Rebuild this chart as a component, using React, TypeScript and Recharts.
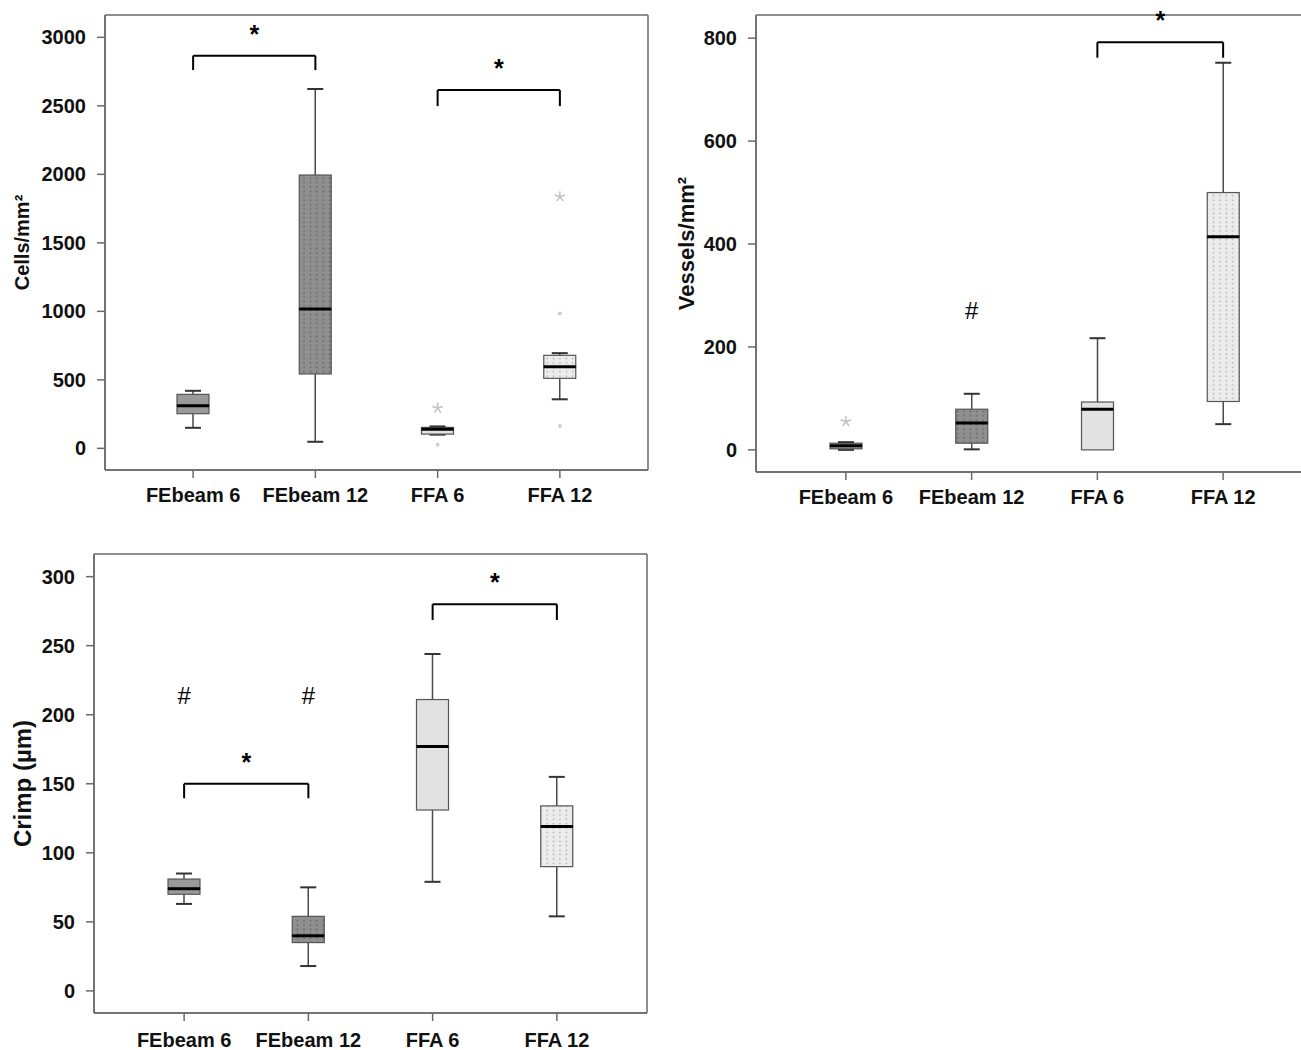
import React from 'react';
import { ComposedChart, Bar, Line, XAxis, YAxis, ReferenceLine, CartesianGrid } from 'recharts';

const categories = ['FEbeam 6', 'FEbeam 12', 'FFA 6', 'FFA 12'];

// Panel 1: Cells/mm²
const cellsMin = [150, 48, 100, 358];
const cellsQ1 = [253, 543, 104, 511];
const cellsMedian = [311, 1017, 139, 596];
const cellsQ3 = [394, 1995, 153, 679];
const cellsMax = [420, 2623, 160, 695];
const cellsStarOutliers = [null, null, 294, 1837];
const cellsDotOutliers = [null, null, 27, 985];
const cellsDotOutliers2 = [null, null, null, 163];
const cellsHash = [null, null, null, null];
const cellsTicks = [0, 500, 1000, 1500, 2000, 2500, 3000];
const cellsBrackets = [
  ['FEbeam 6', 'FEbeam 12', 2866, 2761],
  ['FFA 6', 'FFA 12', 2615, 2498],
];

// Panel 2: Vessels/mm²
const vesselsMin = [0, 1, 0, 50];
const vesselsQ1 = [2, 13, 0, 94];
const vesselsMedian = [8, 52, 79, 414];
const vesselsQ3 = [13, 79, 93, 500];
const vesselsMax = [15, 109, 217, 752];
const vesselsStarOutliers = [55, null, null, null];
const vesselsDotOutliers = [null, null, null, null];
const vesselsDotOutliers2 = [null, null, null, null];
const vesselsHash = [null, 272, null, null];
const vesselsTicks = [0, 200, 400, 600, 800];
const vesselsBrackets = [['FFA 6', 'FFA 12', 792, 762]];

// Panel 3: Crimp (µm)
const crimpMin = [63, 18, 79, 54];
const crimpQ1 = [70, 35, 131, 90];
const crimpMedian = [74, 40, 177, 119];
const crimpQ3 = [81, 54, 211, 134];
const crimpMax = [85, 75, 244, 155];
const crimpStarOutliers = [null, null, null, null];
const crimpDotOutliers = [null, null, null, null];
const crimpDotOutliers2 = [null, null, null, null];
const crimpHash = [214, 214, null, null];
const crimpTicks = [0, 50, 100, 150, 200, 250, 300];
const crimpBrackets = [
  ['FEbeam 6', 'FEbeam 12', 150, 139.5],
  ['FFA 6', 'FFA 12', 280, 268.6],
];

const FONT = 'Liberation Sans, Arial, Helvetica, sans-serif';
const AXIS = '#6a6a6a';

function buildRows(mins, q1s, meds, q3s, maxs, stars, dots, dots2, hashes) {
  return categories.map((name, i) => ({
    name,
    base: mins[i],
    lw: q1s[i] - mins[i],
    lb: meds[i] - q1s[i],
    ub: q3s[i] - meds[i],
    uw: maxs[i] - q3s[i],
    star: stars[i],
    dot: dots[i],
    dot2: dots2[i],
    hash: hashes[i],
  }));
}

const cellsRows = buildRows(cellsMin, cellsQ1, cellsMedian, cellsQ3, cellsMax, cellsStarOutliers, cellsDotOutliers, cellsDotOutliers2, cellsHash);
const vesselsRows = buildRows(vesselsMin, vesselsQ1, vesselsMedian, vesselsQ3, vesselsMax, vesselsStarOutliers, vesselsDotOutliers, vesselsDotOutliers2, vesselsHash);
const crimpRows = buildRows(crimpMin, crimpQ1, crimpMedian, crimpQ3, crimpMax, crimpStarOutliers, crimpDotOutliers, crimpDotOutliers2, crimpHash);

const boxFills = (p) => ['#9a9a9a', `url(#${p}dark)`, '#e2e2e2', `url(#${p}light)`];

const Empty = () => <g />;

const LowerWhisker = (props) => {
  const { x, y, width, height } = props;
  if (!(height > 0.5)) return <g />;
  const cx = x + width / 2;
  return (
    <g>
      <line x1={cx} x2={cx} y1={y} y2={y + height} stroke="#4a4a4a" strokeWidth={1.5} />
      <line x1={cx - 8} x2={cx + 8} y1={y + height} y2={y + height} stroke="#333" strokeWidth={2} />
    </g>
  );
};

const UpperWhisker = (props) => {
  const { x, y, width, height } = props;
  if (!(height > 0.5)) return <g />;
  const cx = x + width / 2;
  return (
    <g>
      <line x1={cx} x2={cx} y1={y} y2={y + height} stroke="#4a4a4a" strokeWidth={1.5} />
      <line x1={cx - 8} x2={cx + 8} y1={y} y2={y} stroke="#333" strokeWidth={2} />
    </g>
  );
};

const makeBox = (prefix, upper) => (props) => {
  const { x, y, width, height, index } = props;
  const h = Math.max(height || 0, 0);
  return (
    <g>
      <rect x={x} y={y} width={width} height={h} fill={boxFills(prefix)[index]} stroke="#555" strokeWidth={1.2} />
      {upper && <line x1={x} x2={x + width} y1={y + h} y2={y + h} stroke="#000" strokeWidth={3} />}
    </g>
  );
};

const StarDot = (props) => {
  const { cx, cy, value, index } = props;
  if (value == null || cy == null || isNaN(cy)) return <g key={`st${index}`} />;
  const r = 5.5;
  const segs = [0, 1, 2, 3, 4].map((k) => {
    const a = (-90 + k * 72) * (Math.PI / 180);
    return <line key={k} x1={cx} y1={cy} x2={cx + r * Math.cos(a)} y2={cy + r * Math.sin(a)} stroke="#c4c4c4" strokeWidth={1.6} />;
  });
  return <g key={`st${index}`}>{segs}</g>;
};

const SmallDot = (props) => {
  const { cx, cy, value, index } = props;
  if (value == null || cy == null || isNaN(cy)) return <g key={`sd${index}`} />;
  return <circle key={`sd${index}`} cx={cx} cy={cy} r={2} fill="#cfcfcf" />;
};

const HashDot = (props) => {
  const { cx, cy, value, index } = props;
  if (value == null || cy == null || isNaN(cy)) return <g key={`h${index}`} />;
  return (
    <text key={`h${index}`} x={cx} y={cy} dy="0.36em" textAnchor="middle" fontSize={24} fontFamily={FONT} fill="#000">
      #
    </text>
  );
};

const frameH = ({ offset }) => [offset.top, offset.top + offset.height];
const frameV = ({ offset }) => [offset.left, offset.left + offset.width];

function BoxPanel({ prefix, rows, domain, ticks, yLabel, yLabelSize, brackets, width, height, margin, yAxisWidth, xHeight, xTickMargin, pad, labelOffset }) {
  const tickStyle = { fill: '#111', fontSize: 20, fontWeight: 'bold', fontFamily: FONT };
  return (
    <ComposedChart width={width} height={height} data={rows} margin={margin} barSize={32}>
      <defs>
        <pattern id={`${prefix}dark`} patternUnits="userSpaceOnUse" width="6.4" height="4.4">
          <rect width="6.4" height="4.4" fill="#8f8f8f" />
          <rect x="2.5" y="1.5" width="1.4" height="1.4" fill="#5c5c5c" />
        </pattern>
        <pattern id={`${prefix}light`} patternUnits="userSpaceOnUse" width="6.4" height="4.4">
          <rect width="6.4" height="4.4" fill="#ececec" />
          <rect x="2.5" y="1.5" width="1.3" height="1.3" fill="#a0a0a0" />
        </pattern>
      </defs>
      <CartesianGrid
        stroke={AXIS}
        strokeWidth={1.5}
        strokeDasharray=""
        horizontalCoordinatesGenerator={frameH}
        verticalCoordinatesGenerator={frameV}
      />
      <XAxis
        dataKey="name"
        type="category"
        interval={0}
        padding={{ left: pad, right: pad }}
        height={xHeight}
        tickSize={8}
        tickMargin={xTickMargin}
        axisLine={{ stroke: AXIS, strokeWidth: 1.5 }}
        tickLine={{ stroke: AXIS, strokeWidth: 1.5 }}
        tick={tickStyle}
      />
      <YAxis
        type="number"
        domain={domain}
        ticks={ticks}
        allowDataOverflow
        width={yAxisWidth}
        tickSize={8}
        tickMargin={11}
        axisLine={{ stroke: AXIS, strokeWidth: 1.5 }}
        tickLine={{ stroke: AXIS, strokeWidth: 1.5 }}
        tick={tickStyle}
        label={{
          value: yLabel,
          angle: -90,
          position: 'insideLeft',
          offset: labelOffset,
          style: { textAnchor: 'middle', fontSize: yLabelSize, fontWeight: 'bold', fill: '#111', fontFamily: FONT },
        }}
      />
      <Bar dataKey="base" stackId="s" isAnimationActive={false} shape={Empty} fill="transparent" />
      <Bar dataKey="lw" stackId="s" isAnimationActive={false} shape={LowerWhisker} />
      <Bar dataKey="lb" stackId="s" isAnimationActive={false} shape={makeBox(prefix, false)} />
      <Bar dataKey="ub" stackId="s" isAnimationActive={false} shape={makeBox(prefix, true)} />
      <Bar dataKey="uw" stackId="s" isAnimationActive={false} shape={UpperWhisker} />
      <Line dataKey="star" stroke="none" isAnimationActive={false} dot={StarDot} activeDot={false} />
      <Line dataKey="dot" stroke="none" isAnimationActive={false} dot={SmallDot} activeDot={false} />
      <Line dataKey="dot2" stroke="none" isAnimationActive={false} dot={SmallDot} activeDot={false} />
      <Line dataKey="hash" stroke="none" isAnimationActive={false} dot={HashDot} activeDot={false} />
      {brackets.map(([a, b, top, leg], i) => (
        <React.Fragment key={`br${i}`}>
          <ReferenceLine
            segment={[{ x: a, y: top }, { x: b, y: top }]}
            stroke="#000"
            strokeWidth={2}
            ifOverflow="visible"
            label={{ value: '*', position: 'top', offset: 13, fill: '#000', fontSize: 25, fontWeight: 'bold', fontFamily: FONT }}
          />
          <ReferenceLine segment={[{ x: a, y: top }, { x: a, y: leg }]} stroke="#000" strokeWidth={2} ifOverflow="visible" />
          <ReferenceLine segment={[{ x: b, y: top }, { x: b, y: leg }]} stroke="#000" strokeWidth={2} ifOverflow="visible" />
        </React.Fragment>
      ))}
    </ComposedChart>
  );
}

export default function App() {
  return (
    <div style={{ position: 'relative', width: 1301, height: 1050, overflow: 'hidden', background: '#fff' }}>
      <style>{`body{margin:0;}`}</style>
      <div style={{ position: 'absolute', left: 0, top: 0 }}>
        <BoxPanel
          prefix="p1"
          rows={cellsRows}
          domain={[-158, 3163]}
          ticks={cellsTicks}
          yLabel="Cells/mm²"
          yLabelSize={20}
          brackets={cellsBrackets}
          width={680}
          height={530}
          margin={{ top: 15, right: 32, bottom: 20, left: 0 }}
          yAxisWidth={105}
          xHeight={40}
          xTickMargin={10}
          pad={27}
          labelOffset={22}
        />
      </div>
      <div style={{ position: 'absolute', left: 660, top: 0 }}>
        <BoxPanel
          prefix="p2"
          rows={vesselsRows}
          domain={[-43, 845]}
          ticks={vesselsTicks}
          yLabel="Vessels/mm²"
          yLabelSize={22}
          brackets={vesselsBrackets}
          width={700}
          height={530}
          margin={{ top: 15, right: 47, bottom: 18, left: 0 }}
          yAxisWidth={96}
          xHeight={40}
          xTickMargin={10}
          pad={27}
          labelOffset={26}
        />
      </div>
      <div style={{ position: 'absolute', left: 0, top: 540 }}>
        <BoxPanel
          prefix="p3"
          rows={crimpRows}
          domain={[-16, 316.4]}
          ticks={crimpTicks}
          yLabel="Crimp (µm)"
          yLabelSize={24}
          brackets={crimpBrackets}
          width={680}
          height={510}
          margin={{ top: 14, right: 33, bottom: 0, left: 0 }}
          yAxisWidth={94}
          xHeight={37}
          xTickMargin={12}
          pad={28}
          labelOffset={22}
        />
      </div>
    </div>
  );
}
